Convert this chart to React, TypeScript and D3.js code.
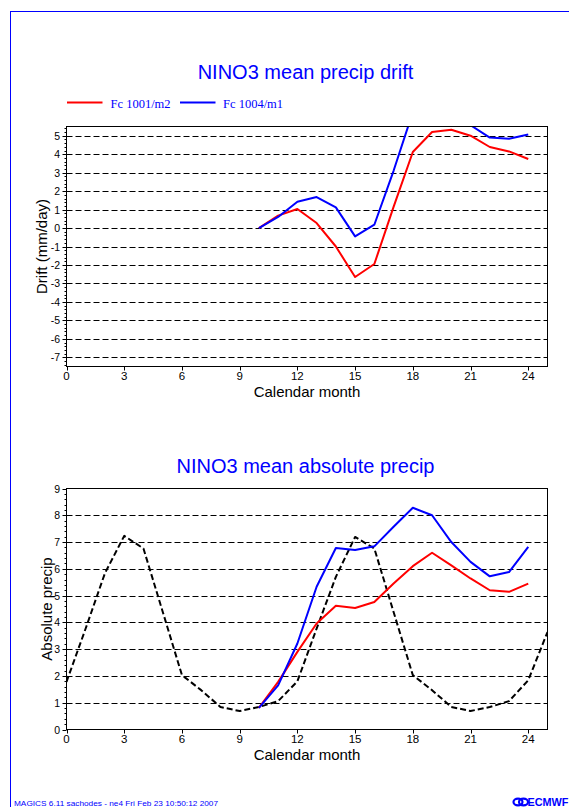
import React from 'react';
import * as d3 from 'd3';

const W = 569;
const H = 807;

// Top panel: drift (mm/day), forecast months 10..24
const fcMonths = [10, 11, 12, 13, 14, 15, 16, 17, 18, 19, 20, 21, 22, 23, 24];
const driftFc1001 = [0, 0.67, 1.03, 0.27, -1.0, -2.65, -1.95, 1.15, 4.12, 5.2, 5.32, 5.0, 4.39, 4.15, 3.74];
const driftFc1004 = [0, 0.6, 1.42, 1.68, 1.12, -0.45, 0.18, 3.1, 6.28, 6.53, 6.16, 5.57, 4.9, 4.84, 5.07];

// Bottom panel: absolute precip
const obsMonths = [0, 1, 2, 3, 4, 5, 6, 7, 8, 9, 10, 11, 12, 13, 14, 15, 16, 17, 18, 19, 20, 21, 22, 23, 24, 25];
const absObs = [1.78, 3.78, 5.84, 7.23, 6.76, 4.4, 2.03, 1.47, 0.84, 0.69, 0.84, 1.06, 1.8, 3.77, 5.7, 7.19, 6.76, 4.39, 2.03, 1.47, 0.84, 0.69, 0.84, 1.06, 1.84, 3.64];
const absFc1001 = [0.81, 1.78, 2.9, 3.96, 4.62, 4.54, 4.76, 5.45, 6.1, 6.6, 6.13, 5.64, 5.2, 5.14, 5.45];
const absFc1004 = [0.81, 1.65, 3.21, 5.33, 6.78, 6.7, 6.84, 7.57, 8.28, 8.0, 7.0, 6.26, 5.72, 5.88, 6.82];

const xTicks = [0, 3, 6, 9, 12, 15, 18, 21, 24];
const driftTicks = [-7, -6, -5, -4, -3, -2, -1, 0, 1, 2, 3, 4, 5];
const absTicks = [0, 1, 2, 3, 4, 5, 6, 7, 8, 9];

const legendLabels = ['Fc 1001/m2', 'Fc 1004/m1'];
const RED = '#ff0000';
const BLUE = '#0000ff';
const SANS = "'Liberation Sans', Arial, Helvetica, sans-serif";
const SERIF = "'Liberation Serif', 'Times New Roman', serif";

const LEFT = 66.5;
const RIGHT = 547.5;

type Series = { xs: number[]; ys: number[]; color: string; dash?: string };

function Panel(props: {
  top: number;
  bottom: number;
  yDomain: [number, number];
  yTicks: number[];
  title: string;
  titleY: number;
  yLabel: string;
  yLabelX: number;
  series: Series[];
  clipId: string;
}) {
  const { top, bottom, yDomain, yTicks, title, titleY, yLabel, yLabelX, series, clipId } = props;
  const x = d3.scaleLinear().domain([0, 25]).range([LEFT, RIGHT]);
  const y = d3.scaleLinear().domain(yDomain).range([bottom, top]);
  const minor: number[] = [];
  const n0 = Math.ceil(yDomain[0] / 0.2 - 1e-6);
  const n1 = Math.floor(yDomain[1] / 0.2 + 1e-6);
  for (let i = n0; i <= n1; i++) {
    const v = i * 0.2;
    if (Math.abs(v - Math.round(v)) > 1e-6) minor.push(v);
  }
  const line = (s: Series) =>
    d3
      .line<number>()
      .x((_, i) => x(s.xs[i]))
      .y((d) => y(d))(s.ys) || '';
  const cx = (LEFT + RIGHT) / 2;
  return (
    <g>
      <text x={cx - 1.5} y={titleY} fill={BLUE} fontFamily={SANS} fontSize={20} textAnchor="middle">
        {title}
      </text>
      <defs>
        <clipPath id={clipId}>
          <rect x={LEFT} y={top} width={RIGHT - LEFT} height={bottom - top} />
        </clipPath>
      </defs>
      {yTicks
        .filter((t) => y(t) > top + 1 && y(t) < bottom - 1)
        .map((t) => (
          <line
            key={'g' + t}
            x1={LEFT}
            x2={RIGHT}
            y1={Math.round(y(t)) + 0.5}
            y2={Math.round(y(t)) + 0.5}
            stroke="#000"
            strokeWidth={1}
            strokeDasharray="6,3"
          />
        ))}
      <g clipPath={`url(#${clipId})`}>
        {series.map((s, i) => (
          <path
            key={i}
            d={line(s)}
            fill="none"
            stroke={s.color}
            strokeWidth={2}
            strokeDasharray={s.dash}
            strokeLinejoin="round"
          />
        ))}
      </g>
      <rect x={LEFT} y={top} width={RIGHT - LEFT} height={bottom - top} fill="none" stroke="#000" strokeWidth={1} />
      {minor.map((t) => (
        <line key={'m' + t.toFixed(1)} x1={LEFT - 2} x2={LEFT} y1={Math.round(y(t)) + 0.5} y2={Math.round(y(t)) + 0.5} stroke="#000" strokeWidth={1} />
      ))}
      {yTicks.map((t) => (
        <g key={'y' + t}>
          <line x1={LEFT - 4} x2={LEFT} y1={Math.round(y(t)) + 0.5} y2={Math.round(y(t)) + 0.5} stroke="#000" strokeWidth={1} />
          <text x={LEFT - 6.5} y={y(t) + 4} fontFamily={SANS} fontSize={10.5} textAnchor="end" fill="#000">
            {String(t)}
          </text>
        </g>
      ))}
      {xTicks.map((t) => (
        <g key={'x' + t}>
          <line x1={Math.round(x(t)) + 0.5} x2={Math.round(x(t)) + 0.5} y1={bottom} y2={bottom + 4} stroke="#000" strokeWidth={1} />
          <text x={x(t)} y={bottom + 13.5} fontFamily={SANS} fontSize={11.5} textAnchor="middle" fill="#000">
            {String(t)}
          </text>
        </g>
      ))}
      <text x={cx} y={bottom + 30} fontFamily={SANS} fontSize={15} textAnchor="middle" fill="#000">
        Calendar month
      </text>
      <text
        transform={`translate(${yLabelX},${(top + bottom) / 2}) rotate(-90)`}
        fontFamily={SANS}
        fontSize={15}
        textAnchor="middle"
        fill="#000"
      >
        {yLabel}
      </text>
    </g>
  );
}

export default function App() {
  return (
    <svg
      width={W}
      height={H}
      viewBox={`0 0 ${W} ${H}`}
      style={{ position: 'absolute', left: 0, top: 0, background: '#fff' }}
    >
      <rect x={0} y={0} width={W} height={H} fill="#fff" />
      <rect x={10.5} y={11.5} width={W + 20} height={H + 20} fill="none" stroke={BLUE} strokeWidth={1} />

      {/* legend */}
      <line x1={67} x2={102.5} y1={102.5} y2={102.5} stroke={RED} strokeWidth={2} />
      <text x={110.5} y={107.5} fontFamily={SERIF} fontSize={12.5} fill={BLUE}>
        {legendLabels[0]}
      </text>
      <line x1={180} x2={215.5} y1={102.5} y2={102.5} stroke={BLUE} strokeWidth={2} />
      <text x={223} y={107.5} fontFamily={SERIF} fontSize={12.5} fill={BLUE}>
        {legendLabels[1]}
      </text>

      <Panel
        top={126.5}
        bottom={366.5}
        yDomain={[-7.5, 5.5]}
        yTicks={driftTicks}
        title="NINO3 mean precip drift"
        titleY={79}
        yLabel="Drift (mm/day)"
        yLabelX={47}
        clipId="clipTop"
        series={[
          { xs: fcMonths, ys: driftFc1001, color: RED },
          { xs: fcMonths, ys: driftFc1004, color: BLUE },
        ]}
      />
      <Panel
        top={488.5}
        bottom={729.5}
        yDomain={[0, 9]}
        yTicks={absTicks}
        title="NINO3 mean absolute precip"
        titleY={473}
        yLabel="Absolute precip"
        yLabelX={51.5}
        clipId="clipBottom"
        series={[
          { xs: obsMonths, ys: absObs, color: '#000', dash: '6,3' },
          { xs: fcMonths, ys: absFc1001, color: RED },
          { xs: fcMonths, ys: absFc1004, color: BLUE },
        ]}
      />

      {/* footer */}
      <text x={14} y={806} fontFamily={SANS} fontSize={8} fill={BLUE} textLength={204} lengthAdjust="spacingAndGlyphs">
        MAGICS 6.11 sachodes - ne4 Fri Feb 23 10:50:12 2007
      </text>
      <g>
        <ellipse cx={518} cy={802} rx={4.5} ry={3.3} fill="none" stroke={BLUE} strokeWidth={2.2} />
        <ellipse cx={523.5} cy={802} rx={4.5} ry={3.3} fill="none" stroke={BLUE} strokeWidth={2.2} />
        <text x={527.5} y={806} fontFamily={SANS} fontSize={11} fontWeight="bold" fill={BLUE} textLength={41} lengthAdjust="spacingAndGlyphs">
          ECMWF
        </text>
      </g>
    </svg>
  );
}
